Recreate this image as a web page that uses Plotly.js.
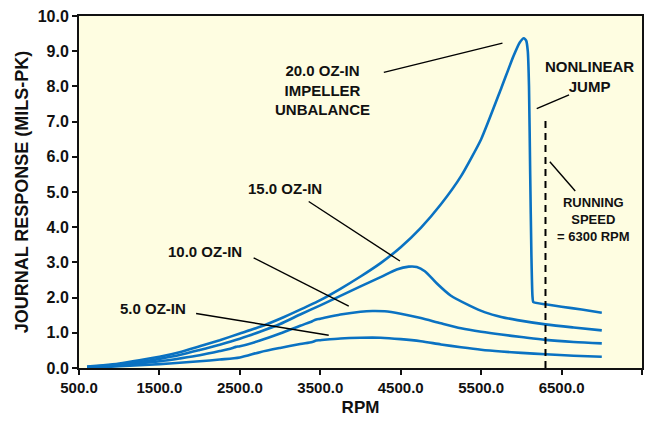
<!DOCTYPE html>
<html>
<head>
<meta charset="utf-8">
<script src="https://cdn.plot.ly/plotly-3.0.1.min.js"></script>
<style>html,body{margin:0;padding:0;background:#fff;}#chart{width:664px;height:424px;}</style>
</head>
<body>
<div id="chart"></div>
<script>
// RPM / response (mils-pk)
const rpm20 = [600,800,1000,1250,1500,1750,2000,2250,2500,2750,3000,3250,3500,3750,4000,4250,4500,4750,5000,5250,5500,5750,5900,5980,6030,6060,6080,6095,6110,6125,6138,6150,6300,6500,6750,7000];
const y20   = [0.04,0.08,0.13,0.22,0.32,0.45,0.62,0.79,0.98,1.17,1.40,1.66,1.93,2.25,2.60,2.98,3.43,3.98,4.65,5.45,6.50,7.95,8.85,9.25,9.37,9.30,9.00,8.00,5.50,3.20,2.05,1.87,1.81,1.74,1.66,1.57];

const rpm15 = [600,800,1000,1250,1500,1750,2000,2250,2500,2750,3000,3250,3500,3750,4000,4250,4450,4600,4700,4800,4950,5120,5350,5550,5750,5950,6300,6650,7000];
const y15   = [0.03,0.06,0.10,0.17,0.26,0.37,0.51,0.66,0.83,1.03,1.25,1.52,1.78,2.05,2.32,2.58,2.80,2.88,2.87,2.75,2.40,2.06,1.78,1.58,1.45,1.36,1.24,1.15,1.07];

const rpm10 = [600,800,1000,1250,1500,1750,2000,2250,2400,2450,2500,2750,3000,3250,3400,3450,3500,3750,4000,4150,4300,4500,4750,5000,5250,5500,5750,6000,6300,6650,7000];
const y10   = [0.02,0.05,0.08,0.13,0.19,0.27,0.36,0.48,0.56,0.60,0.62,0.78,0.98,1.20,1.33,1.38,1.40,1.52,1.60,1.62,1.61,1.54,1.42,1.27,1.13,1.03,0.95,0.88,0.80,0.74,0.70];

const rpm5  = [600,800,1000,1250,1500,1750,2000,2250,2500,2750,3000,3250,3400,3450,3500,3750,4000,4250,4500,4750,5000,5250,5500,5750,6000,6300,6650,7000];
const y5    = [0.01,0.03,0.05,0.08,0.11,0.15,0.19,0.24,0.30,0.45,0.57,0.68,0.74,0.78,0.79,0.84,0.86,0.86,0.82,0.76,0.67,0.59,0.52,0.47,0.43,0.39,0.35,0.32];

const runSpeedX = [6300, 6300];
const runSpeedY = [0, 7.1];

const xTicks = [500,1500,2500,3500,4500,5500,6500,7500];
const yTicks = [0,1,2,3,4,5,6,7,8,9,10];

const blue = '#0a72c2';
const font = 'Arial, "Liberation Sans", sans-serif';

function curve(x, y, sm) {
  return {x: x, y: y, type: 'scatter', mode: 'lines',
          line: {color: blue, width: 2.6, shape: 'spline', smoothing: sm},
          hoverinfo: 'skip', showlegend: false};
}

const traces = [
  curve(rpm5, y5, 0.8), curve(rpm10, y10, 0.8), curve(rpm15, y15, 0.8), curve(rpm20, y20, 0.5),
  {x: runSpeedX, y: runSpeedY, type: 'scatter', mode: 'lines', line: {color: '#000', width: 2, dash: '7px,5px'}, showlegend: false, hoverinfo: 'skip'}
];

function ptr(x0, y0, x1, y1) {
  return {type: 'line', xref: 'x', yref: 'y', x0: x0, y0: y0, x1: x1, y1: y1, line: {color: '#000', width: 1.4}};
}
function lbl(x, y, text, size) {
  return {x: x, y: y, xref: 'x', yref: 'y', text: text, showarrow: false, align: 'center',
          font: {family: font, size: size || 15, color: '#111', weight: 'bold'}};
}

const layout = {
  width: 664, height: 424,
  margin: {l: 79, r: 22, t: 16, b: 56},
  paper_bgcolor: '#ffffff',
  plot_bgcolor: '#fefde1',
  font: {family: font, color: '#111'},
  xaxis: {
    range: [500, 7500], tickvals: xTicks, ticktext: xTicks.map(v => v.toFixed(1)),
    showgrid: false, zeroline: false, showline: true, mirror: true, linecolor: '#111', linewidth: 2,
    ticks: 'outside', ticklen: 5, tickwidth: 2, tickcolor: '#111',
    tickfont: {family: font, size: 15, color: '#111', weight: 'bold'},
    title: {text: '<b>RPM</b>', font: {family: font, size: 17, color: '#111'}, standoff: 6}
  },
  yaxis: {
    range: [0, 10], tickvals: yTicks, ticktext: yTicks.map(v => v.toFixed(1)),
    showgrid: false, zeroline: false, showline: true, mirror: true, linecolor: '#111', linewidth: 2,
    ticks: 'outside', ticklen: 5, tickwidth: 2, tickcolor: '#111',
    tickfont: {family: font, size: 16, color: '#111', weight: 'bold'},
    title: {text: '<b>JOURNAL RESPONSE (MILS-PK)</b>', font: {family: font, size: 18, color: '#111'}, standoff: 4}
  },
  shapes: [
    ptr(4290, 8.40, 5765, 9.23),
    ptr(3356, 4.73, 4490, 3.04),
    ptr(2671, 3.13, 3854, 1.76),
    ptr(1956, 1.55, 3605, 0.93),
    ptr(6593, 7.76, 6191, 7.37),
    ptr(6354, 5.86, 6670, 5.03)
  ],
  annotations: [
    lbl(3533, 7.91, '20.0 OZ-IN<br>IMPELLER<br>UNBALANCE'),
    lbl(3062, 5.10, '15.0 OZ-IN'),
    lbl(2066, 3.32, '10.0 OZ-IN'),
    lbl(1416, 1.68, '5.0 OZ-IN'),
    lbl(6849, 8.28, 'NONLINEAR<br>JUMP'),
    lbl(6902, 4.22, 'RUNNING<br>SPEED<br>= 6300 RPM', 13)
  ]
};

Plotly.newPlot('chart', traces, layout, {displayModeBar: false, staticPlot: true});
</script>
</body>
</html>
